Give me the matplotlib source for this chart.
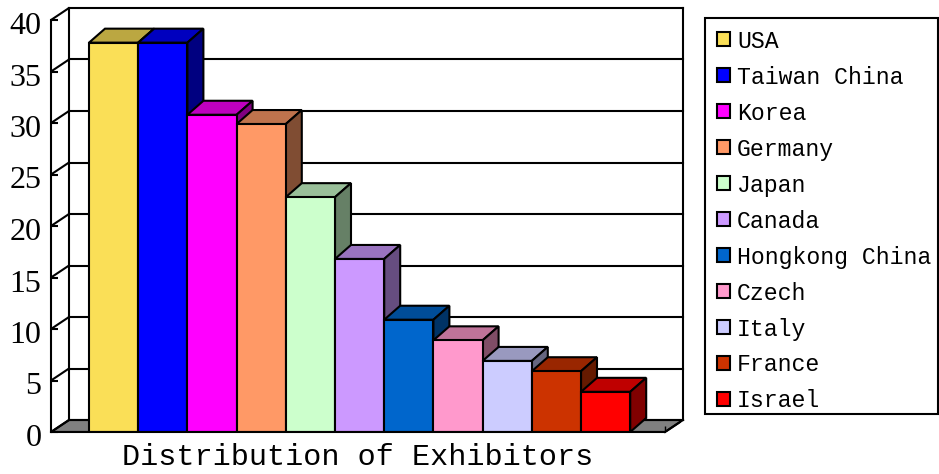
import matplotlib
matplotlib.use('Agg')
import matplotlib.pyplot as plt
import matplotlib.transforms as mtransforms
from matplotlib.patches import Polygon, Rectangle
from matplotlib.colors import to_rgb

countries = ['USA', 'Taiwan China', 'Korea', 'Germany', 'Japan', 'Canada',
             'Hongkong China', 'Czech', 'Italy', 'France', 'Israel']
exhibitors = [37.8, 37.8, 30.8, 29.9, 22.8, 16.8, 10.9, 8.9, 6.9, 5.9, 3.9]
colors = ['#FADF57', '#0000FF', '#FF00FF', '#FF9966', '#CCFFCC', '#CC99FF',
          '#0066CC', '#FF99CC', '#CCCCFF', '#CC3300', '#FF0000']
y_ticks = [0, 5, 10, 15, 20, 25, 30, 35, 40]

W, H = 939, 474
LW = 1.5
MONO = 'Liberation Mono'
SERIF = 'Liberation Serif'

# one data unit in pixels
px_x = 49.2
px_y = 10.3
# depth of the walls and of the bars
wall_dx = 18 / px_x
wall_dy = 12 / px_y
bar_dx = 16 / px_x
bar_dy = 14 / px_y

x_left = -0.5 - 38 / px_x
x_right = x_left + 614 / px_x


def shade(color, k):
    return tuple(c * k for c in to_rgb(color))


fig = plt.figure(figsize=(W / 100, H / 100), dpi=100)
ax = fig.add_axes([51 / W, (H - 432) / H, 630 / W, 424.4 / H])
ax.set_xlim(x_left, x_left + 630 / px_x)
ax.set_ylim(0, 424.4 / px_y)

# floor
ax.add_patch(Polygon([(x_left, 0), (x_left + wall_dx, wall_dy),
                      (x_right + wall_dx, wall_dy), (x_right, 0)],
                     closed=True, facecolor='#808080', edgecolor='black',
                     linewidth=LW, zorder=1))

# walls and grid
for v in y_ticks:
    ax.plot([x_left, x_left + wall_dx], [v, v + wall_dy], color='black',
            lw=LW, zorder=1.5, solid_capstyle='round', clip_on=False)
    ax.plot([x_left + wall_dx, x_right + wall_dx], [v + wall_dy, v + wall_dy],
            color='black', lw=LW, zorder=1.5, clip_on=False)
top = y_ticks[-1]
ax.plot([x_left + wall_dx, x_left + wall_dx], [wall_dy, top + wall_dy],
        color='black', lw=LW, zorder=1.5, clip_on=False)
ax.plot([x_right + wall_dx, x_right + wall_dx], [wall_dy, top + wall_dy],
        color='black', lw=LW, zorder=1.5, clip_on=False)
ax.plot([x_right, x_right + wall_dx], [0, wall_dy], color='black', lw=LW,
        zorder=1.5, clip_on=False)

# bars, left to right so each one covers the side of the one before
xs = list(range(len(exhibitors)))
bars = ax.bar(xs, exhibitors, width=1, color=colors, edgecolor='black',
              linewidth=LW)
for i, (b, v, c) in enumerate(zip(bars, exhibitors, colors)):
    z = 3 + i
    l, r = i - 0.5, i + 0.5
    ax.add_patch(Polygon([(l, v), (l + bar_dx, v + bar_dy),
                          (r + bar_dx, v + bar_dy), (r, v)], closed=True,
                         facecolor=shade(c, 0.75), edgecolor='black',
                         linewidth=LW, zorder=z))
    ax.add_patch(Polygon([(r, 0), (r + bar_dx, bar_dy),
                          (r + bar_dx, v + bar_dy), (r, v)], closed=True,
                         facecolor=shade(c, 0.5), edgecolor='black',
                         linewidth=LW, zorder=z))
    b.set_zorder(z + 0.5)

# front axes
for s in ['top', 'right']:
    ax.spines[s].set_visible(False)
ax.spines['left'].set_bounds(0, top)
ax.spines['bottom'].set_bounds(x_left, x_right)
ax.spines['left'].set_linewidth(LW)
ax.spines['bottom'].set_linewidth(LW)
ax.spines['bottom'].set_zorder(20)
ax.patch.set_alpha(0)

ax.set_yticks(y_ticks)
ax.set_xticks([x_right])
ax.set_xticklabels([''])
ax.tick_params(axis='y', direction='in', length=5, width=LW, pad=7,
               labelsize=23)
ax.tick_params(axis='x', direction='in', length=4, width=1)
# labels sit a little below their ticks in the original
nudge = mtransforms.ScaledTranslation(0, -3 / 100, fig.dpi_scale_trans)
for t in ax.get_yticklabels():
    t.set_fontfamily(SERIF)
    t.set_transform(t.get_transform() + nudge)

fig.text(358 / W, (H - 457) / H, 'Distribution of Exhibitors', family=MONO,
         fontsize=21.7, ha='center', va='center')

# legend box drawn separately, the legend's own frame came out too tall
fig.add_artist(Rectangle((705 / W, (H - 414) / H), 233 / W, 396 / H,
                         transform=fig.transFigure, facecolor='white',
                         edgecolor='black', linewidth=LW, zorder=1))
leg = fig.legend(bars, countries, loc='upper left',
                 bbox_to_anchor=(705 / W, (H - 18) / H),
                 prop={'family': MONO, 'size': 16.7}, frameon=False,
                 handlelength=0.56, handleheight=0.56, handletextpad=0.32,
                 labelspacing=0.56, borderpad=0.5, borderaxespad=0)
leg.set_zorder(2)
for h in leg.legend_handles:
    h.set_linewidth(LW)

fig.savefig('out.png', dpi=100)
